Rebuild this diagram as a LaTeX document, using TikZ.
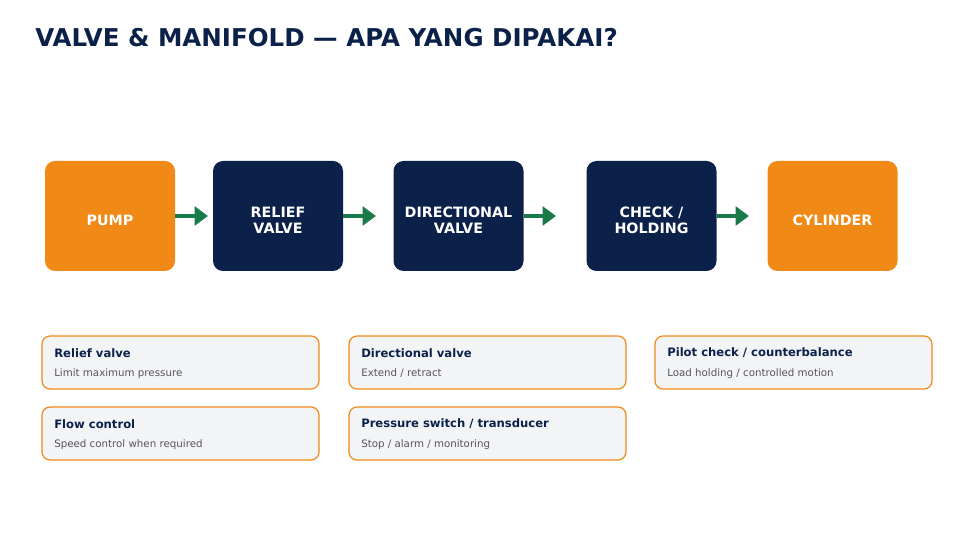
\documentclass[tikz,border=0pt]{standalone}
\usepackage{fontspec}
\setmainfont{DejaVu Sans}
\usetikzlibrary{arrows.meta}
\definecolor{navy}{RGB}{11,33,73}
\definecolor{pumporange}{RGB}{240,137,22}
\definecolor{flowgreen}{RGB}{27,122,74}
\definecolor{cardfill}{RGB}{243,244,246}
\definecolor{cardtext}{RGB}{85,85,90}
\tikzset{
  stagebox/.style={rounded corners=7.5pt, minimum width=97.5pt, minimum height=82.5pt, align=center, text=white, font=\bfseries\fontsize{10.7}{12}\selectfont},
  flowarrow/.style={draw=flowgreen, line width=3pt, -{Triangle[length=10pt,width=14pt]}},
  cardbox/.style={rounded corners=6pt, draw=pumporange, line width=0.9pt, fill=cardfill, minimum width=207.75pt, minimum height=39.75pt},
  cardtitle/.style={anchor=west, inner sep=0pt, text=navy, font=\bfseries\fontsize{8.7}{10}\selectfont},
  cardnote/.style={anchor=west, inner sep=0pt, text=cardtext, font=\fontsize{7.7}{9}\selectfont}
}
\begin{document}
\begin{tikzpicture}[x=0.75pt,y=0.75pt,yscale=-1,xscale=1]
\useasboundingbox (0,0) rectangle (968,548);

% Title
\node [anchor=west, inner sep=0pt, text=navy, font=\bfseries\fontsize{18.4}{22}\selectfont] (title) at (35,38) {VALVE \& MANIFOLD — APA YANG DIPAKAI?};

% Stages
\node [stagebox, fill=pumporange] (pump) at (110,216) {};
\node [stagebox, fill=navy] (relief) at (278,216) {};
\node [stagebox, fill=navy] (directional) at (458.5,216) {};
\node [stagebox, fill=navy] (check) at (651.5,216) {};
\node [stagebox, fill=pumporange] (cylinder) at (832.5,216) {};
\node [stagebox, minimum size=0pt] (pumpl) at (110,220) {PUMP};
\node [stagebox, minimum size=0pt] (reliefl) at (278,220) {RELIEF\\VALVE};
\node [stagebox, minimum size=0pt] (directionall) at (458.5,220) {DIRECTIONAL\\VALVE};
\node [stagebox, minimum size=0pt] (checkl) at (651.5,220) {CHECK /\\HOLDING};
\node [stagebox, minimum size=0pt] (cylinderl) at (832.5,220) {CYLINDER};

% Arrows
\coordinate (a1) at (208,216);
\coordinate (a2) at (376,216);
\coordinate (a3) at (556,216);
\coordinate (a4) at (749,216);
\draw [flowarrow] (pump.east) -- (a1);
\draw [flowarrow] (relief.east) -- (a2);
\draw [flowarrow] (directional.east) -- (a3);
\draw [flowarrow] (check.east) -- (a4);

% Cards
\node [cardbox] (card1) at (180.5,362.5) {};
\node [cardtitle] (card1t) at (54,353) {Relief valve};
\node [cardnote] (card1n) at (54,373.5) {Limit maximum pressure};

\node [cardbox] (card2) at (180.5,433.5) {};
\node [cardtitle] (card2t) at (54,424) {Flow control};
\node [cardnote] (card2n) at (54,444.5) {Speed control when required};

\node [cardbox] (card3) at (487.5,362.5) {};
\node [cardtitle] (card3t) at (361,353) {Directional valve};
\node [cardnote] (card3n) at (361,373.5) {Extend / retract};

\node [cardbox] (card4) at (487.5,433.5) {};
\node [cardtitle] (card4t) at (361,424) {Pressure switch / transducer};
\node [cardnote] (card4n) at (361,444.5) {Stop / alarm / monitoring};

\node [cardbox] (card5) at (793.5,362.5) {};
\node [cardtitle] (card5t) at (667,353) {Pilot check / counterbalance};
\node [cardnote] (card5n) at (667,373.5) {Load holding / controlled motion};

\end{tikzpicture}
\end{document}
